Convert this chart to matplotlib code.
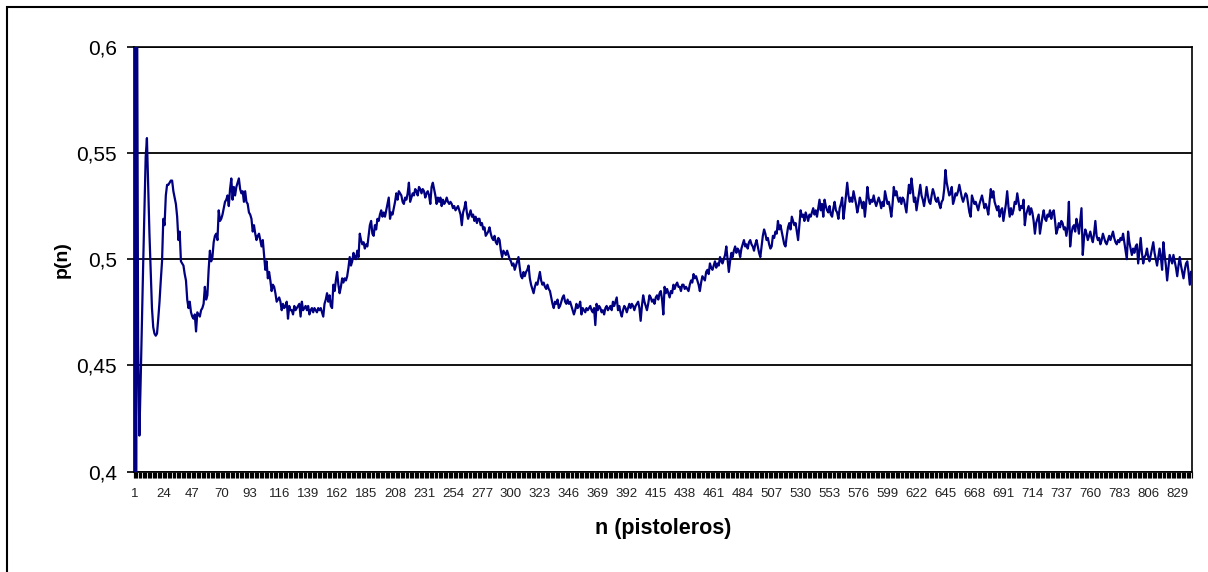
import numpy as np
import matplotlib
matplotlib.use("Agg")
import matplotlib.pyplot as plt
from matplotlib.patches import Rectangle

plt.rcParams['font.family'] = ['Liberation Sans', 'DejaVu Sans']

# p(n) in thousandths, n = 1..840 (rows of 10)
p_milli = [
    1000, 0, 667, 460, 417, 442, 470, 497, 523, 548,
    557, 535, 512, 494, 477, 468, 465, 464, 465, 472,
    480, 490, 499, 519, 516, 530, 535, 535, 536, 537,
    537, 532, 529, 526, 520, 509, 513, 499, 498, 497,
    493, 490, 481, 477, 480, 475, 473, 472, 474, 466,
    475, 474, 473, 476, 477, 479, 487, 481, 483, 495,
    504, 499, 501, 508, 511, 512, 509, 523, 518, 519,
    521, 524, 527, 528, 530, 525, 533, 538, 528, 534,
    530, 534, 536, 538, 533, 531, 532, 527, 532, 527,
    526, 522, 521, 519, 513, 516, 512, 509, 511, 512,
    509, 506, 509, 502, 495, 499, 491, 494, 490, 485,
    488, 487, 484, 480, 481, 482, 480, 476, 479, 477,
    478, 480, 472, 478, 476, 476, 474, 478, 476, 477,
    478, 479, 473, 480, 476, 477, 478, 476, 478, 474,
    476, 477, 475, 477, 476, 475, 477, 476, 477, 475,
    473, 479, 481, 484, 480, 483, 478, 477, 488, 485,
    490, 494, 488, 484, 487, 491, 489, 491, 490, 492,
    496, 501, 497, 499, 503, 501, 500, 504, 501, 512,
    509, 507, 508, 505, 507, 506, 511, 516, 518, 512,
    511, 516, 514, 519, 518, 521, 523, 520, 522, 520,
    523, 526, 529, 519, 522, 521, 524, 527, 531, 528,
    532, 531, 530, 527, 526, 529, 528, 531, 536, 527,
    529, 531, 530, 533, 532, 530, 534, 533, 531, 533,
    532, 529, 531, 532, 530, 526, 534, 536, 533, 530,
    526, 529, 527, 529, 525, 528, 526, 527, 529, 527,
    526, 527, 526, 524, 525, 523, 524, 525, 523, 521,
    516, 522, 524, 527, 522, 519, 521, 523, 520, 521,
    518, 520, 517, 519, 519, 516, 517, 514, 515, 511,
    512, 513, 515, 512, 510, 509, 511, 508, 507, 510,
    509, 504, 501, 504, 503, 502, 504, 502, 500, 499,
    497, 498, 495, 497, 499, 501, 496, 492, 491, 494,
    492, 494, 495, 497, 491, 488, 486, 484, 487, 489,
    488, 491, 494, 490, 488, 489, 487, 486, 488, 486,
    485, 482, 479, 477, 480, 479, 481, 477, 478, 480,
    482, 483, 480, 479, 481, 479, 480, 478, 476, 474,
    476, 479, 477, 478, 480, 474, 477, 476, 475, 477,
    476, 477, 478, 476, 475, 477, 469, 479, 476, 478,
    477, 475, 476, 474, 477, 478, 476, 477, 478, 476,
    480, 478, 480, 482, 476, 478, 475, 473, 476, 478,
    477, 475, 477, 479, 477, 479, 478, 476, 478, 479,
    480, 477, 471, 478, 483, 480, 478, 476, 479, 483,
    482, 480, 481, 479, 482, 483, 481, 484, 485, 481,
    474, 487, 484, 486, 484, 482, 485, 484, 488, 486,
    488, 489, 487, 487, 485, 488, 488, 486, 487, 486,
    485, 488, 490, 489, 493, 491, 492, 490, 488, 485,
    489, 492, 491, 490, 494, 495, 493, 498, 496, 495,
    497, 499, 496, 498, 497, 501, 499, 498, 500, 502,
    506, 500, 494, 499, 503, 501, 504, 506, 503, 505,
    504, 501, 505, 507, 509, 506, 507, 505, 508, 509,
    507, 506, 504, 507, 509, 506, 503, 501, 506, 511,
    514, 512, 509, 510, 507, 505, 506, 511, 510, 513,
    512, 518, 514, 516, 513, 510, 507, 506, 511, 515,
    517, 514, 520, 518, 516, 517, 513, 509, 516, 523,
    520, 521, 518, 522, 520, 518, 521, 520, 522, 524,
    521, 523, 520, 524, 528, 523, 526, 520, 528, 525,
    523, 522, 525, 521, 520, 524, 527, 523, 522, 519,
    524, 526, 529, 519, 524, 530, 536, 530, 527, 529,
    527, 532, 529, 526, 522, 525, 529, 527, 524, 527,
    520, 526, 534, 529, 526, 528, 527, 530, 527, 525,
    527, 529, 527, 524, 527, 525, 532, 529, 526, 527,
    524, 520, 526, 534, 530, 532, 529, 527, 529, 526,
    529, 528, 525, 522, 529, 535, 531, 538, 533, 527,
    529, 523, 527, 531, 535, 530, 528, 525, 529, 534,
    530, 527, 526, 530, 533, 531, 528, 527, 529, 526,
    524, 527, 528, 533, 542, 536, 533, 530, 531, 534,
    526, 528, 531, 530, 532, 535, 532, 529, 527, 529,
    531, 530, 526, 522, 520, 530, 528, 526, 527, 525,
    523, 526, 528, 530, 527, 524, 526, 524, 521, 527,
    533, 529, 532, 527, 525, 523, 525, 520, 523, 524,
    518, 522, 526, 532, 525, 520, 524, 521, 523, 527,
    526, 531, 527, 523, 525, 524, 528, 516, 521, 523,
    525, 521, 524, 522, 518, 512, 517, 519, 521, 512,
    516, 520, 523, 519, 518, 521, 520, 523, 519, 522,
    523, 518, 512, 514, 517, 515, 518, 517, 514, 515,
    511, 515, 527, 506, 512, 515, 516, 513, 519, 516,
    512, 518, 524, 502, 510, 514, 512, 509, 511, 513,
    510, 508, 512, 518, 511, 509, 510, 507, 509, 512,
    510, 508, 507, 509, 511, 509, 511, 513, 510, 508,
    507, 509, 508, 510, 509, 512, 508, 504, 500, 513,
    508, 505, 502, 505, 503, 506, 507, 498, 504, 510,
    503, 498, 501, 502, 505, 501, 499, 502, 505, 508,
    503, 500, 497, 501, 505, 501, 495, 508, 502, 497,
    490, 496, 502, 500, 498, 502, 499, 496, 492, 497,
    501, 497, 494, 491, 495, 498, 499, 494, 488, 494,
]
n = np.arange(1, len(p_milli) + 1)
p = np.array(p_milli) / 1000.0

y_ticks = [0.4, 0.45, 0.5, 0.55, 0.6]
y_labels = ['0,4', '0,45', '0,5', '0,55', '0,6']
x_label_step = 23

W, H = 1208, 572
fig = plt.figure(figsize=(W / 100, H / 100), dpi=100)
ax = fig.add_axes([133.7 / W, (H - 471.7) / H, 1058 / W, 425 / H])

ax.plot(n, p, color='#000080', lw=1.6, zorder=3)

ax.set_xlim(0.5, len(n) + 0.5)
ax.set_ylim(0.4, 0.6)

ax.set_yticks(y_ticks)
ax.set_yticklabels(y_labels, fontsize=15)
ax.yaxis.grid(True, color='black', lw=1.3)
ax.tick_params(axis='y', direction='out', length=5, width=1.2, pad=7)

lab_pos = n[::x_label_step]
ax.set_xticks(lab_pos)
ax.set_xticklabels([str(v) for v in lab_pos], fontsize=9.5, color='#222222')
ax.set_xticks(np.arange(0.5, len(n) + 1), minor=True)
ax.tick_params(axis='x', which='major', length=0, pad=12)
ax.tick_params(axis='x', which='minor', direction='out', length=4, width=0.85)

for s in ax.spines.values():
    s.set_color('black')
    s.set_linewidth(1.2)

ax.set_xlabel('n (pistoleros)', fontsize=15.5, fontweight='bold', labelpad=13)
ax.set_ylabel('p(n)', fontsize=14, fontweight='bold', labelpad=4)

fig.patches.append(Rectangle((7 / W, -0.1), 1.2, 1 - 7 / H + 0.1,
                             transform=fig.transFigure, fill=False,
                             ec='black', lw=1.5))

fig.savefig('out.png', dpi=100)
